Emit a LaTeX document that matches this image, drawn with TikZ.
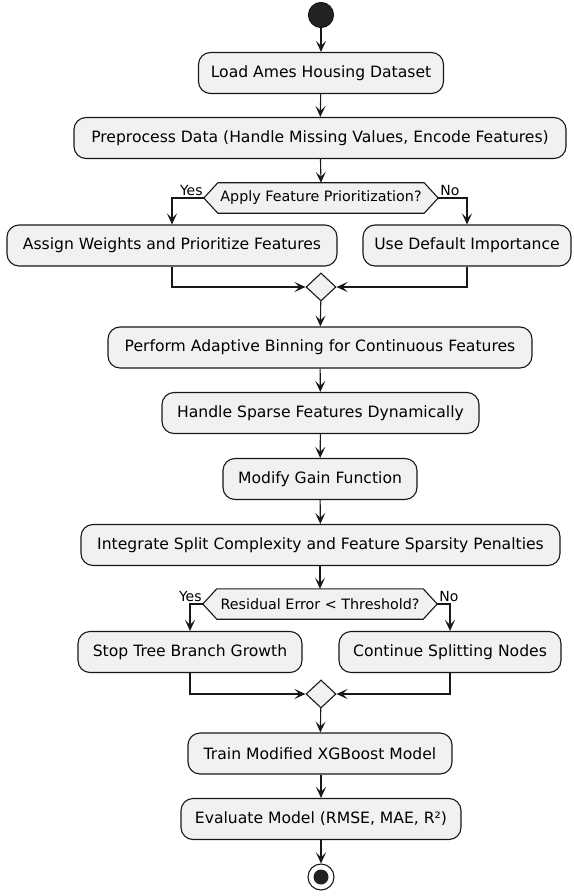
\documentclass[tikz,border=0pt]{standalone}
\usepackage{fontspec}
\setmainfont{DejaVu Sans}
\usetikzlibrary{arrows.meta,shapes.geometric,calc,backgrounds}
\definecolor{boxfill}{HTML}{F1F1F1}
\definecolor{lineclr}{HTML}{181818}
\definecolor{startclr}{HTML}{222222}
\tikzset{
  actbox/.style={draw=lineclr, fill=boxfill, line width=1.1pt, rounded corners=12pt,
    minimum height=41pt, inner sep=0pt, font=\fontsize{15.6}{18}\selectfont},
  hexnode/.style={minimum height=30pt, inner sep=0pt, font=\fontsize{14.3}{16}\selectfont},
  hexline/.style={draw=lineclr, fill=boxfill, line width=1.1pt},
  mergenode/.style={diamond, draw=lineclr, fill=boxfill, line width=1.1pt,
    minimum width=30pt, minimum height=28pt, inner sep=0pt},
  arr/.style={draw=lineclr, line width=1.1pt, -{Stealth[length=11pt,width=10pt,inset=5pt]}},
  branchlbl/.style={font=\fontsize{14}{16}\selectfont, inner sep=1pt},
}
\begin{document}
\begin{tikzpicture}[x=1pt,y=-1pt]
\useasboundingbox (0,0) rectangle (573,896);

\node[circle, draw=lineclr, fill=startclr, line width=1.1pt, minimum size=25pt, inner sep=0pt] (start) at (321,15) {};

\node[actbox, minimum width=245pt] (load) at (321,73) {Load Ames Housing Dataset};
\node[actbox, minimum width=492pt] (pre) at (320,138) {Preprocess Data (Handle Missing Values, Encode Features)};

\node[hexnode, minimum width=206pt] (q1) at (321,198) {Apply Feature Prioritization?};
\coordinate (q1l) at ($(q1.west)+(-14,0)$);
\coordinate (q1r) at ($(q1.east)+(14,0)$);
\begin{pgfonlayer}{background}
\path[hexline] (q1l) -- (q1.north west) -- (q1.north east) -- (q1r) -- (q1.south east) -- (q1.south west) -- cycle;
\end{pgfonlayer}
\node[branchlbl, anchor=south east] (yes1) at ($(q1l)+(0,-1)$) {Yes};
\node[branchlbl, anchor=south west] (no1) at ($(q1r)+(1,-1)$) {No};

\node[actbox, minimum width=330pt] (assign) at (172,245.5) {Assign Weights and Prioritize Features};
\node[actbox, minimum width=208pt] (use) at (467,245.5) {Use Default Importance};

\node[mergenode] (m1) at (321,287) {};

\node[actbox, minimum width=424pt] (perf) at (320,347.5) {Perform Adaptive Binning for Continuous Features};
\node[actbox, minimum width=317pt] (sparse) at (320.5,413) {Handle Sparse Features Dynamically};
\node[actbox, minimum width=194pt] (gain) at (320,479) {Modify Gain Function};
\node[actbox, minimum width=479pt] (integ) at (320.5,545) {Integrate Split Complexity and Feature Sparsity Penalties};

\node[hexnode, minimum width=206pt] (q2) at (320,604) {Residual Error < Threshold?};
\coordinate (q2l) at ($(q2.west)+(-14,0)$);
\coordinate (q2r) at ($(q2.east)+(14,0)$);
\begin{pgfonlayer}{background}
\path[hexline] (q2l) -- (q2.north west) -- (q2.north east) -- (q2r) -- (q2.south east) -- (q2.south west) -- cycle;
\end{pgfonlayer}
\node[branchlbl, anchor=south east] (yes2) at ($(q2l)+(0,-1)$) {Yes};
\node[branchlbl, anchor=south west] (no2) at ($(q2r)+(1,-1)$) {No};

\node[actbox, minimum width=224pt] (stop) at (190,652) {Stop Tree Branch Growth};
\node[actbox, minimum width=222pt] (cont) at (450,652) {Continue Splitting Nodes};

\node[mergenode] (m2) at (321,694) {};

\node[actbox, minimum width=264pt] (train) at (320,753.5) {Train Modified XGBoost Model};
\node[actbox, minimum width=280pt] (eval) at (321,819) {Evaluate Model (RMSE, MAE, R²)};

\node[circle, draw=lineclr, fill=white, line width=1.1pt, minimum size=26pt, inner sep=0pt] (fin) at (321,877) {};
\fill[startclr] (fin.center) circle (7.5pt);

\draw[arr] (start) -- (load);
\draw[arr] (load) -- (pre);
\draw[arr] (pre) -- (q1.north);
\draw[arr] (q1l) -| (assign.north);
\draw[arr] (q1r) -| (use.north);
\draw[arr] (assign.south) |- (m1.west);
\draw[arr] (use.south) |- (m1.east);
\draw[arr] (m1) -- (perf);
\draw[arr] (perf) -- (sparse);
\draw[arr] (sparse) -- (gain);
\draw[arr] (gain) -- (integ);
\draw[arr] (integ.south -| q2.north) -- (q2.north);
\draw[arr] (q2l) -| (stop.north);
\draw[arr] (q2r) -| (cont.north);
\draw[arr] (stop.south) |- (m2.west);
\draw[arr] (cont.south) |- (m2.east);
\draw[arr] (m2) -- (train);
\draw[arr] (train.south -| eval.north) -- (eval);
\draw[arr] (eval.south -| fin.north) -- (fin);
\end{tikzpicture}
\end{document}
